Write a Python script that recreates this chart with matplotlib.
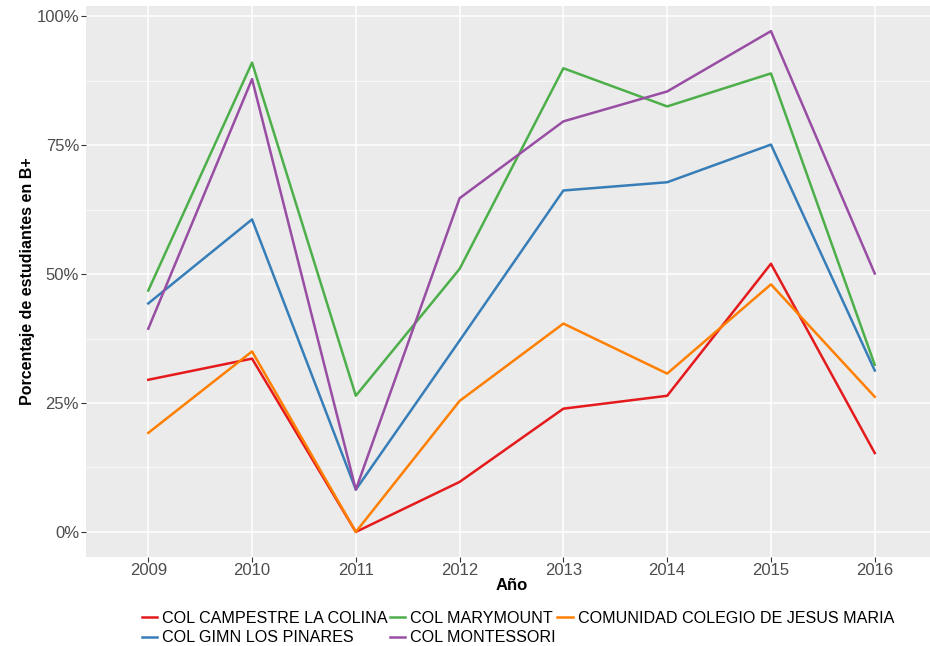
import matplotlib.pyplot as plt
import numpy as np

plt.rcParams['font.family'] = ['Liberation Sans', 'DejaVu Sans']

years = [2009, 2010, 2011, 2012, 2013, 2014, 2015, 2016]
campestre = [0.295, 0.336, 0.0, 0.097, 0.239, 0.264, 0.520, 0.153]
gimn = [0.443, 0.606, 0.082, 0.371, 0.662, 0.678, 0.751, 0.313]
marymount = [0.468, 0.910, 0.264, 0.510, 0.899, 0.825, 0.889, 0.324]
montessori = [0.394, 0.878, 0.082, 0.647, 0.796, 0.854, 0.971, 0.501]
jesus_maria = [0.192, 0.350, 0.0, 0.254, 0.404, 0.307, 0.480, 0.262]

series = [
    ("COL CAMPESTRE LA COLINA", campestre, "#E41A1C"),
    ("COL GIMN LOS PINARES", gimn, "#377EB8"),
    ("COL MARYMOUNT", marymount, "#4DAF4A"),
    ("COL MONTESSORI", montessori, "#984EA3"),
    ("COMUNIDAD COLEGIO DE JESUS MARIA", jesus_maria, "#FF7F00"),
]

fig = plt.figure(figsize=(9.3, 6.46), dpi=100)
ax = fig.add_axes([86/930, 1 - 557/646, 851/930, 551/646])
ax.set_facecolor("#EBEBEB")

for name, vals, col in series:
    ax.plot(years, vals, color=col, lw=1.8, label=name)

ax.set_xlim(2008.4, 2016.6)
ax.set_ylim(-0.0486, 1.0197)
ax.set_xticks(years)
ax.set_yticks([0, 0.25, 0.5, 0.75, 1.0])
ax.set_yticks([0.125, 0.375, 0.625, 0.875], minor=True)
ax.set_yticklabels(["0%", "25%", "50%", "75%", "100%"])
ax.grid(True, which="major", color="white", lw=1.1)
ax.grid(True, which="minor", axis="y", color="white", lw=0.5)
ax.set_axisbelow(True)
for s in ax.spines.values():
    s.set_visible(False)
ax.tick_params(which="major", length=3.5, width=0.8, color="#333333",
               labelcolor="#4D4D4D", labelsize=12, pad=1.5)
ax.tick_params(axis="x", pad=0.8)
ax.tick_params(which="minor", length=0)

ax.set_xlabel("Año", fontsize=12, fontweight="bold", labelpad=0)
ax.set_ylabel("Porcentaje de estudiantes en B+", fontsize=11.5, fontweight="bold", labelpad=1)

leg = fig.legend(loc="center", bbox_to_anchor=(518/930, 1 - 628/646), ncol=3,
                 frameon=False, fontsize=11.6, handlelength=0.95, handletextpad=0.3,
                 columnspacing=0.12, labelspacing=0.3, borderaxespad=0)

fig.savefig("out.png", dpi=100)
